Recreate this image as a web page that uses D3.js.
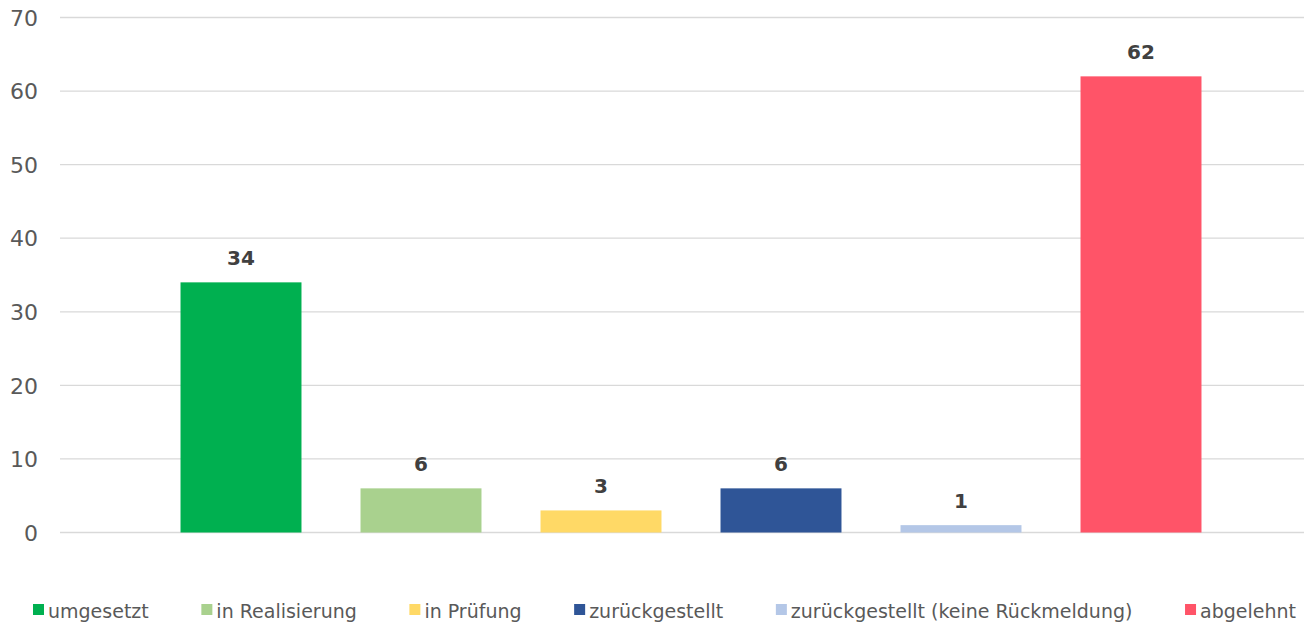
<!DOCTYPE html>
<html><head><meta charset="utf-8">
<script src="https://cdn.jsdelivr.net/npm/d3@7"></script>
<style>html,body{margin:0;padding:0;background:#fff;} svg{display:block;}</style>
</head><body>
<svg id="chart" width="1304" height="622"></svg>
<script>
const categories = ["umgesetzt","in Realisierung","in Prüfung","zurückgestellt","zurückgestellt (keine Rückmeldung)","abgelehnt"];
const values = [34, 6, 3, 6, 1, 62];
const colors = ["#00b050","#a9d18e","#ffd966","#2f5597","#b4c7e7","#ff5468"];
const yTicks = [0,10,20,30,40,50,60,70];

const font = "'DejaVu Sans', sans-serif";
const svg = d3.select("#chart");
const plotLeft = 60, plotRight = 1304, plotTop = 17.5, plotBottom = 532.5;

const y = d3.scaleLinear().domain([0,70]).range([plotBottom, plotTop]);
const x = d3.scaleBand().domain(categories).range([151, 1231]).paddingInner(0.328).paddingOuter(0.164);

// gridlines
svg.append("g").selectAll("line").data(yTicks).join("line")
  .attr("x1", plotLeft).attr("x2", plotRight)
  .attr("y1", d => y(d)).attr("y2", d => y(d))
  .attr("stroke", "#d9d9d9").attr("stroke-width", 1.3);

// y axis labels
const yAxis = d3.axisLeft(y).tickValues(yTicks).tickSize(0).tickPadding(0);
const ga = svg.append("g").attr("transform", "translate(38,0)").call(yAxis);
ga.select(".domain").remove();
ga.selectAll("text").attr("font-family", font).attr("font-size", 22).attr("fill", "#595959").attr("dy", "0.35em");

// bars
svg.append("g").selectAll("rect").data(categories).join("rect")
  .attr("x", d => x(d)).attr("width", x.bandwidth())
  .attr("y", (d,i) => y(values[i])).attr("height", (d,i) => y(0) - y(values[i]))
  .attr("fill", (d,i) => colors[i]);

// data labels
svg.append("g").selectAll("text").data(categories).join("text")
  .attr("x", d => x(d) + x.bandwidth()/2)
  .attr("y", (d,i) => y(values[i]) - 17)
  .attr("text-anchor", "middle")
  .attr("font-family", font).attr("font-size", 20).attr("font-weight", "bold")
  .attr("fill", "#404040")
  .text((d,i) => values[i]);

// legend
const lg = svg.append("g");
const items = lg.selectAll("g").data(categories).join("g");
items.append("rect").attr("width", 11).attr("height", 11).attr("y", 604).attr("fill", (d,i) => colors[i]);
items.append("text").attr("x", 15).attr("y", 618)
  .attr("font-family", font).attr("font-size", 19).attr("fill", "#595959").text(d => d);
const widths = [];
items.each(function(){ widths.push(15 + d3.select(this).select("text").node().getComputedTextLength()); });
const start = 33, end = 1296;
const total = d3.sum(widths);
const gap = (end - start - total) / (categories.length - 1);
let cx = start;
items.each(function(d,i){ d3.select(this).attr("transform", `translate(${cx},0)`); cx += widths[i] + gap; });
</script>
</body></html>
